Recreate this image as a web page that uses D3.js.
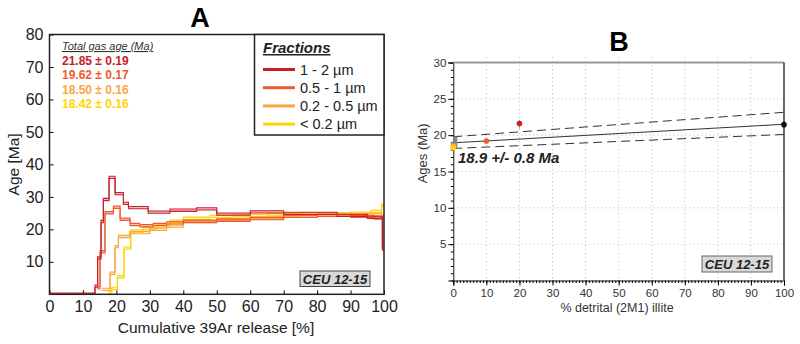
<!DOCTYPE html>
<html>
<head>
<meta charset="utf-8">
<script src="https://cdn.jsdelivr.net/npm/d3@7"></script>
<style>
  body { margin: 0; background: #fff; }
  svg { font-family: "Liberation Sans", Arial, sans-serif; }
</style>
</head>
<body>
<svg id="chart" width="800" height="344"></svg>
<script>
// ---- data: panel A age spectra (cumulative 39Ar %, step ages in Ma) ----
const fractions = ["1 - 2 µm", "0.5 - 1 µm", "0.2 - 0.5 µm", "< 0.2 µm"];
const colors = ["#c8202a", "#ee5a2e", "#f8a640", "#ffd400"];
const totalGasAges = ["21.85 ± 0.19", "19.62 ± 0.17", "18.50 ± 0.16", "18.42 ± 0.16"];

const cumRed = [0, 13.6, 14.4, 15.4, 16.1, 17.8, 19.6, 22.1, 23.6, 29.5, 36, 44, 50, 60, 70, 86, 95, 99.5, 100];
const ageRed = [0, 2.5, 11.2, 22.4, 29.2, 36.0, 31.0, 28.0, 26.7, 25.3, 25.9, 26.3, 24.7, 25.4, 24.9, 24.3, 23.7, 14];

const cumOrange = [14.2, 15.1, 16.6, 19.1, 21.1, 24.1, 27, 31, 35, 40, 50, 60, 70, 80, 90, 97, 99.6, 100];
const ageOrange = [2, 13.1, 25.1, 26.8, 23.1, 21.5, 21.1, 21.5, 22, 22.5, 22.8, 23.3, 24, 24.3, 24, 23.5, 15.5];

const cumLight = [15.6, 18.1, 19.6, 20.6, 24, 30, 35, 40, 50, 60, 70, 80, 90, 99.3, 100];
const ageLight = [1.5, 6.5, 14.7, 17.8, 19.0, 20, 21, 22.3, 23, 23.5, 24, 24.3, 24.6, 24];

const cumYellow = [17.4, 18.6, 20.3, 22.3, 24.3, 28, 32, 36, 40, 48, 55, 65, 75, 90, 96, 99.3, 100];
const ageYellow = [0.5, 1.8, 5.4, 14.2, 19.5, 20.2, 21, 22.5, 23.4, 24, 24.2, 24.5, 24.8, 25, 25.5, 27.5];

const spectra = [
  { cum: cumYellow, age: ageYellow, color: colors[3] },
  { cum: cumLight, age: ageLight, color: colors[2] },
  { cum: cumOrange, age: ageOrange, color: colors[1] },
  { cum: cumRed, age: ageRed, color: colors[0] }
];
const stepErr = 0.35;

// ---- data: panel B (detrital illite % vs age) ----
const detritalPct = [0, 0, 10, 20, 100];
const pointAges = [18.5, 18.25, 19.2, 21.6, 21.45];
const pointColors = [colors[2], colors[3], colors[1], colors[0], "#111"];
const fitLine = [[0, 18.95], [100, 21.5]];
const fitUpper = [[0, 19.78], [100, 23.15]];
const fitLower = [[0, 18.17], [100, 20.1]];
const interceptBox = [18.15, 19.8];

const svg = d3.select("#chart");

// =================== Panel A ===================
const xA = d3.scaleLinear().domain([0, 100]).range([49.5, 384]);
const yA = d3.scaleLinear().domain([0, 80]).range([294.3, 34.5]);

const gA = svg.append("g");

gA.append("text").attr("x", 200).attr("y", 27).attr("text-anchor", "middle")
  .attr("font-size", 27).attr("font-weight", "bold").text("A");

// axes (ticks pointing inside)
gA.append("g").attr("transform", `translate(0,${yA(0)})`)
  .call(d3.axisBottom(xA).tickValues(d3.range(0, 101, 10)).tickSize(-4).tickPadding(6))
  .call(g => g.selectAll("text").attr("font-size", 16).attr("fill", "#222"))
  .call(g => g.select(".domain").remove());
gA.append("g").attr("transform", `translate(${xA(0)},0)`)
  .call(d3.axisLeft(yA).tickValues(d3.range(10, 81, 10)).tickSize(-4).tickPadding(6))
  .call(g => g.selectAll("text").attr("font-size", 16).attr("fill", "#222"))
  .call(g => g.select(".domain").remove());

gA.append("text").attr("x", 216).attr("y", 333).attr("text-anchor", "middle")
  .attr("font-size", 15.5).attr("fill", "#222").text("Cumulative 39Ar release [%]");
gA.append("text").attr("transform", `translate(19,${yA(40)}) rotate(-90)`)
  .attr("text-anchor", "middle").attr("font-size", 15.5).attr("fill", "#222").text("Age [Ma]");

// spectra as error-box steps
const stepPts = s => s.age.map((a, i) => ({ x: s.cum[i], a })).concat([{ x: s.cum[s.cum.length - 1], a: s.age[s.age.length - 1] }]);
const area = d3.area().curve(d3.curveStepAfter)
  .x(d => xA(d.x)).y0(d => yA(Math.max(0, d.a - stepErr))).y1(d => yA(d.a + stepErr));
const lineTop = d3.line().curve(d3.curveStepAfter).x(d => xA(d.x)).y(d => yA(d.a + stepErr));
const lineBot = d3.line().curve(d3.curveStepAfter).x(d => xA(d.x)).y(d => yA(Math.max(0, d.a - stepErr)));

spectra.forEach(s => {
  const pts = stepPts(s);
  gA.append("path").attr("d", area(pts)).attr("fill", s.color).attr("opacity", 0.3);
  gA.append("path").attr("d", lineTop(pts)).attr("fill", "none").attr("stroke", s.color).attr("stroke-width", 1.1);
  gA.append("path").attr("d", lineBot(pts)).attr("fill", "none").attr("stroke", s.color).attr("stroke-width", 1.1);
});

// frame
gA.append("rect").attr("x", xA(0)).attr("y", yA(80)).attr("width", xA(100) - xA(0)).attr("height", yA(0) - yA(80))
  .attr("fill", "none").attr("stroke", "#222").attr("stroke-width", 1.5);

// total gas ages
gA.append("text").attr("x", 62).attr("y", 50).attr("font-size", 11).attr("font-style", "italic")
  .attr("text-decoration", "underline").attr("fill", "#333").text("Total gas age (Ma)");
totalGasAges.forEach((t, i) => {
  gA.append("text").attr("x", 62).attr("y", 64.5 + i * 14.6).attr("font-size", 12).attr("font-weight", "bold")
    .attr("fill", colors[i]).text(t);
});

// legend
gA.append("rect").attr("x", 254.5).attr("y", 34.5).attr("width", 129.5).attr("height", 100.5)
  .attr("fill", "#fff").attr("stroke", "#222").attr("stroke-width", 1.5);
gA.append("text").attr("x", 263).attr("y", 53).attr("font-size", 15).attr("font-weight", "bold")
  .attr("font-style", "italic").attr("text-decoration", "underline").attr("fill", "#222").text("Fractions");
fractions.forEach((f, i) => {
  const y = 69.5 + i * 18.2;
  gA.append("line").attr("x1", 263).attr("x2", 295).attr("y1", y).attr("y2", y)
    .attr("stroke", colors[i]).attr("stroke-width", 3);
  gA.append("text").attr("x", 300).attr("y", y + 5).attr("font-size", 14.5).attr("fill", "#222").text(f);
});

// sample tag
gA.append("rect").attr("x", 300).attr("y", 271).attr("width", 70).attr("height", 15.5)
  .attr("fill", "#d9d9d9").attr("stroke", "#444").attr("stroke-width", 1);
gA.append("text").attr("x", 335).attr("y", 283.5).attr("text-anchor", "middle").attr("font-size", 13)
  .attr("font-weight", "bold").attr("font-style", "italic").attr("fill", "#222").text("CEU 12-15");

// =================== Panel B ===================
const xB = d3.scaleLinear().domain([0, 100]).range([453.3, 784]);
const yB = d3.scaleLinear().domain([0, 30]).range([280.5, 62.5]);
const gB = svg.append("g");

gB.append("text").attr("x", 619).attr("y", 51).attr("text-anchor", "middle")
  .attr("font-size", 27).attr("font-weight", "bold").text("B");

// dotted grid
gB.append("g").selectAll("line.vx").data(d3.range(10, 100, 10)).join("line")
  .attr("x1", d => xB(d)).attr("x2", d => xB(d)).attr("y1", 57).attr("y2", yB(0))
  .attr("stroke", "#bbb").attr("stroke-dasharray", "1,3");
gB.append("g").selectAll("line.hy").data(d3.range(5, 30, 5)).join("line")
  .attr("x1", xB(0)).attr("x2", xB(100)).attr("y1", d => yB(d)).attr("y2", d => yB(d))
  .attr("stroke", "#bbb").attr("stroke-dasharray", "1,3");

// minor ticks
gB.append("g").attr("transform", `translate(0,${yB(0)})`)
  .call(d3.axisBottom(xB).tickValues(d3.range(0, 101, 1)).tickSize(2.5).tickFormat(""))
  .call(g => g.select(".domain").remove());
gB.append("g").attr("transform", `translate(${xB(0)},0)`)
  .call(d3.axisLeft(yB).tickValues(d3.range(0, 31, 1)).tickSize(2.5).tickFormat(""))
  .call(g => g.select(".domain").remove());
// major ticks
gB.append("g").attr("transform", `translate(0,${yB(0)})`)
  .call(d3.axisBottom(xB).tickValues(d3.range(0, 101, 10)).tickSize(5).tickPadding(3))
  .call(g => g.selectAll("text").attr("font-size", 11.5).attr("fill", "#333"))
  .call(g => g.select(".domain").attr("stroke", "#111"));
gB.append("g").attr("transform", `translate(${xB(0)},0)`)
  .call(d3.axisLeft(yB).tickValues(d3.range(5, 31, 5)).tickSize(5).tickPadding(2))
  .call(g => g.selectAll("text").attr("font-size", 11.5).attr("fill", "#333"))
  .call(g => g.select(".domain").attr("stroke", "#111"));

// top and right borders
gB.append("line").attr("x1", xB(0)).attr("x2", xB(100)).attr("y1", yB(30)).attr("y2", yB(30))
  .attr("stroke", "#999").attr("stroke-width", 2);
gB.append("line").attr("x1", xB(100)).attr("x2", xB(100)).attr("y1", yB(30)).attr("y2", yB(0))
  .attr("stroke", "#333").attr("stroke-width", 1.5);

gB.append("text").attr("x", 617).attr("y", 312).attr("text-anchor", "middle")
  .attr("font-size", 12.5).attr("fill", "#333").text("% detrital (2M1) illite");
gB.append("text").attr("transform", `translate(427,${yB(17.5)}) rotate(-90)`)
  .attr("text-anchor", "middle").attr("font-size", 13).attr("fill", "#333").text("Ages (Ma)");

// regression with envelope
const lB = d3.line().x(d => xB(d[0])).y(d => yB(d[1]));
gB.append("path").attr("d", lB(fitUpper)).attr("fill", "none").attr("stroke", "#333")
  .attr("stroke-width", 1).attr("stroke-dasharray", "9,5");
gB.append("path").attr("d", lB(fitLower)).attr("fill", "none").attr("stroke", "#333")
  .attr("stroke-width", 1).attr("stroke-dasharray", "9,5");
gB.append("path").attr("d", lB(fitLine)).attr("fill", "none").attr("stroke", "#333").attr("stroke-width", 1);

gB.append("rect").attr("x", xB(0)).attr("y", yB(interceptBox[1])).attr("width", 4)
  .attr("height", yB(interceptBox[0]) - yB(interceptBox[1])).attr("fill", "#888");

// error bar on 20 % point
gB.append("line").attr("x1", xB(20)).attr("x2", xB(20)).attr("y1", yB(22.1)).attr("y2", yB(20.9))
  .attr("stroke", "#999").attr("stroke-width", 1);

gB.selectAll("circle.pt").data(detritalPct).join("circle")
  .attr("cx", d => xB(d)).attr("cy", (d, i) => yB(pointAges[i])).attr("r", 2.8)
  .attr("fill", (d, i) => pointColors[i]);

gB.append("text").attr("x", 458).attr("y", 163).attr("font-size", 15).attr("font-weight", "bold")
  .attr("font-style", "italic").attr("fill", "#222").text("18.9 +/- 0.8 Ma");

gB.append("rect").attr("x", 702).attr("y", 256).attr("width", 70).attr("height", 16)
  .attr("fill", "#d9d9d9").attr("stroke", "#666").attr("stroke-width", 1);
gB.append("text").attr("x", 737).attr("y", 268.5).attr("text-anchor", "middle").attr("font-size", 13)
  .attr("font-weight", "bold").attr("font-style", "italic").attr("fill", "#222").text("CEU 12-15");
</script>
</body>
</html>
